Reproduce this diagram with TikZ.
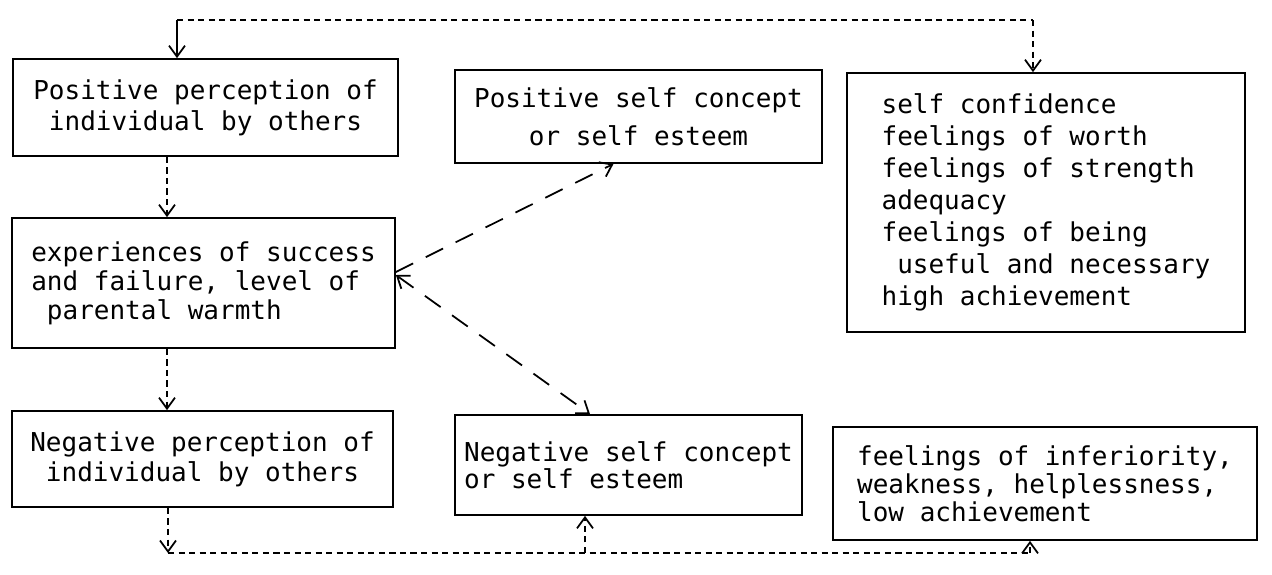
\documentclass[tikz,border=0pt]{standalone}
\usepackage{fontspec}
\setmonofont{DejaVu Sans Mono}
\usetikzlibrary{arrows.meta}
\newcommand{\bxfnt}[1]{\ttfamily\fontsize{14.8}{#1}\selectfont}
\tikzset{barb/.tip={Straight Barb[length=0.22cm,width=0.32cm,line width=1pt]}}

\begin{document}
\begin{tikzpicture}[x=0.02cm,y=-0.02cm,
    blok/.style={draw,line width=1pt,inner sep=0pt},
    dotlink/.style={line width=1.1pt,dash pattern=on 3.5pt off 2.5pt},
    longlink/.style={line width=1pt,dash pattern=on 11pt off 8pt}]

    \useasboundingbox (0,0) rectangle (1272,575);

    % left column
    \node[blok,minimum width=7.7cm,minimum height=1.94cm,align=center,
      font=\bxfnt{17.6}] (pospc) at (205.5,107.5)
      {Positive perception of\\individual by others};
    \node[blok,minimum width=7.66cm,minimum height=2.6cm,align=left,
      font=\bxfnt{16.6}] (exper) at (203.5,283)
      {experiences of success\\and failure, level of\\\ parental warmth};
    \node[blok,minimum width=7.62cm,minimum height=1.92cm,align=center,
      font=\bxfnt{17.1}] (negpc) at (202.5,459)
      {Negative perception of\\individual by others};

    % middle column
    \node[blok,minimum width=7.34cm,minimum height=1.86cm,align=center,
      font=\bxfnt{21.6}] (possc) at (638.5,116.5)
      {Positive self concept\\or self esteem};
    \node[blok,minimum width=6.94cm,minimum height=2cm,align=left,
      font=\bxfnt{15.4}] (negsc) at (628.5,465)
      {Negative self concept\\or self esteem};

    % right column
    \node[blok,minimum width=7.96cm,minimum height=5.18cm,align=left,
      font=\bxfnt{18.2}] (posft) at (1046,202.5)
      {self confidence\\feelings of worth\\feelings of strength\\adequacy\\
       feelings of being\\\ useful and necessary\\high achievement};
    \node[blok,minimum width=8.48cm,minimum height=2.26cm,align=left,
      font=\bxfnt{16}] (negft) at (1045,483.5)
      {feelings of inferiority,\\weakness, helplessness,\\low achievement};

    % top loop
    \coordinate (toplft) at (177,20);
    \coordinate (toprgt) at (1033,20);
    \draw[line width=1pt,-barb] (toplft) -- (pospc.north -| toplft);
    \draw[dotlink] (toplft) -- (toprgt);
    \draw[dotlink,-barb] (toprgt) -- (posft.north -| toprgt);

    % down the left column
    \coordinate (colab) at (167,0);
    \draw[dotlink,-barb] (pospc.south -| colab) -- (exper.north -| colab);
    \draw[dotlink,-barb] (exper.south -| colab) -- (negpc.north -| colab);

    % out to the self concepts
    \draw[longlink,-barb] ([yshift=0.22cm]exper.east) -- ([xshift=-0.5cm]possc.south);
    \draw[longlink,barb-barb] ([yshift=0.16cm]exper.east) -- ([xshift=-0.77cm]negsc.north);

    % bottom loop
    \coordinate (botlft) at (168,553);
    \coordinate (botmid) at (585,553);
    \coordinate (botrgt) at (1030,553);
    \draw[dotlink,-barb] (negpc.south -| botlft) -- (botlft);
    \draw[dotlink] (botlft) -- (botrgt);
    \draw[dotlink,-barb] (botmid) -- (negsc.south -| botmid);
    \draw[dotlink,-barb] (botrgt) -- (negft.south -| botrgt);
  \end{tikzpicture}
\end{document}
